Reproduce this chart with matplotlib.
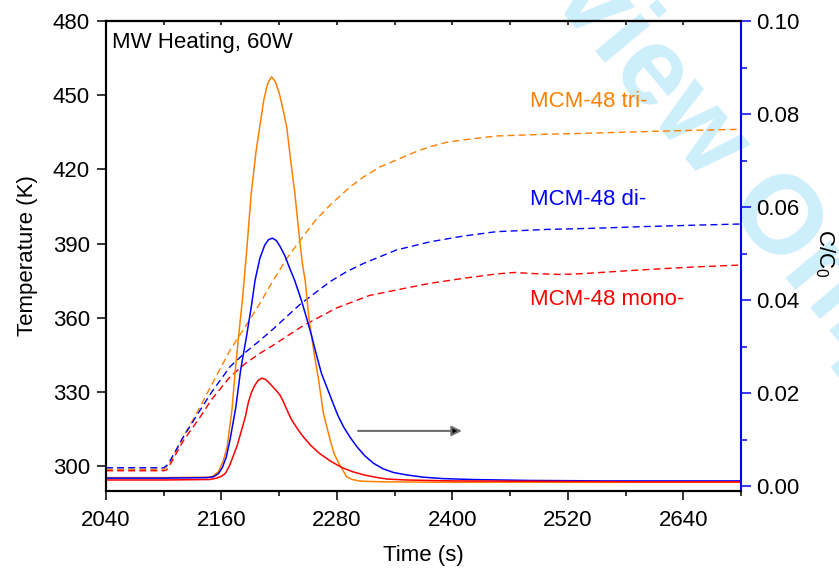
import numpy as np
import matplotlib
matplotlib.use("Agg")
import matplotlib.pyplot as plt
from matplotlib.ticker import MultipleLocator

plt.rcParams['font.family'] = ['Liberation Sans', 'DejaVu Sans']
plt.rcParams['mathtext.default'] = 'regular'

# C/C0 (solid, right axis)
t_tri_c = [2040, 2100, 2145, 2150, 2157, 2162, 2166, 2171, 2174, 2178, 2182, 2186, 2191, 2196,
           2200, 2204, 2208, 2212, 2216, 2220, 2224, 2228, 2232, 2236, 2240, 2244, 2247, 2251,
           2256, 2261, 2266, 2273, 2277, 2282, 2286, 2290, 2296, 2303, 2310, 2330, 2400, 2500,
           2600, 2700]
c_tri = [0.0018, 0.0018, 0.0019, 0.0020, 0.0031, 0.0055, 0.0085, 0.0165, 0.0240, 0.0325, 0.0405,
         0.0500, 0.0630, 0.0720, 0.0775, 0.0830, 0.0865, 0.0880, 0.0870, 0.0845, 0.0810, 0.0770,
         0.0700, 0.0635, 0.0555, 0.0480, 0.0443, 0.0360, 0.0290, 0.0228, 0.0156, 0.0099, 0.0070,
         0.0049, 0.0035, 0.0020, 0.0014, 0.0011, 0.0010, 0.0009, 0.0008, 0.0008, 0.0008, 0.0008]

t_di_c = [2040, 2100, 2145, 2152, 2157, 2161, 2165, 2169, 2175, 2180, 2186, 2191, 2195, 2200,
          2205, 2209, 2213, 2217, 2221, 2226, 2231, 2236, 2243, 2248, 2254, 2259, 2264, 2270,
          2276, 2281, 2287, 2294, 2301, 2309, 2318, 2328, 2339, 2352, 2370, 2390, 2420, 2480,
          2560, 2640, 2700]
c_di = [0.0017, 0.0017, 0.0018, 0.0020, 0.0027, 0.0040, 0.0062, 0.0100, 0.0170, 0.0250, 0.0321,
        0.0385, 0.0443, 0.0490, 0.0518, 0.0530, 0.0533, 0.0528, 0.0515, 0.0495, 0.0468, 0.0443,
        0.0400, 0.0365, 0.0321, 0.0280, 0.0242, 0.0210, 0.0178, 0.0152, 0.0127, 0.0104, 0.0084,
        0.0065, 0.0049, 0.0037, 0.0029, 0.0024, 0.0019, 0.0016, 0.0014, 0.0012, 0.0011, 0.0011,
        0.0011]

t_mono_c = [2040, 2100, 2148, 2155, 2160, 2164, 2168, 2172, 2176, 2179, 2182, 2185, 2188, 2191,
            2194, 2198, 2202, 2206, 2210, 2214, 2218, 2221, 2224, 2227, 2230, 2233, 2239, 2245,
            2253, 2262, 2273, 2285, 2296, 2308, 2320, 2332, 2352, 2400, 2500, 2600, 2700]
c_mono = [0.0013, 0.0013, 0.0014, 0.0017, 0.0021, 0.0027, 0.0042, 0.0063, 0.0085, 0.0106, 0.0128,
          0.0150, 0.0180, 0.0200, 0.0214, 0.0227, 0.0232, 0.0229, 0.0221, 0.0212, 0.0203, 0.0195,
          0.0183, 0.0169, 0.0155, 0.0142, 0.0123, 0.0106, 0.0087, 0.0070, 0.0054, 0.0040, 0.0031,
          0.0024, 0.0019, 0.0015, 0.0013, 0.0011, 0.0010, 0.0009, 0.0009]

# Temperature (dashed, left axis)
t_tri_T = [2040, 2100, 2104, 2107, 2120, 2138, 2150, 2169, 2185, 2200, 2214, 2228, 2242, 2258,
           2273, 2294, 2308, 2325, 2342, 2360, 2377, 2395, 2411, 2446, 2498, 2540, 2595, 2650, 2700]
T_tri = [298.7, 298.7, 300.0, 301.7, 311.5, 324.0, 333.0, 346.9, 356.5, 365.8, 375.2, 384.0, 391.4,
         399.5, 405.6, 413.0, 417.0, 421.0, 423.8, 426.8, 429.2, 431.0, 431.9, 433.5, 434.2, 434.6,
         435.2, 435.8, 436.2]

t_di_T = [2040, 2100, 2104, 2107, 2120, 2138, 2150, 2169, 2185, 2200, 2214, 2242, 2273, 2290,
          2308, 2342, 2377, 2411, 2446, 2498, 2550, 2595, 2650, 2700]
T_di = [299.3, 299.3, 300.5, 302.4, 311.5, 322.7, 330.0, 340.2, 346.0, 350.8, 355.5, 365.5, 374.6,
        378.6, 382.0, 387.4, 390.7, 393.0, 394.8, 395.7, 396.2, 396.8, 397.4, 397.9]

t_mono_T = [2040, 2100, 2103, 2108, 2120, 2138, 2150, 2169, 2185, 2200, 2214, 2245, 2280, 2314,
            2352, 2377, 2411, 2446, 2465, 2481, 2510, 2530, 2543, 2570, 2595, 2650, 2700]
T_mono = [298.1, 298.1, 298.4, 301.5, 310.0, 319.9, 327.0, 336.1, 341.5, 345.6, 348.9, 356.8, 364.0,
          369.0, 372.0, 373.9, 375.9, 377.7, 378.3, 377.9, 377.5, 377.7, 378.0, 378.7, 379.3,
          380.5, 381.3]

c_orange = '#FF8000'
c_blue = '#0000FF'
c_red = '#FF0000'

fig = plt.figure(figsize=(8.39, 5.71), dpi=100)
ax = fig.add_axes([0.1263, 0.1401, 0.7569, 0.8231])
ax.patch.set_visible(False)

# watermark
fig.text(0.386, 1.476, 'For Review Only', fontsize=80, fontweight='bold', color='#cdeefb',
         rotation=-50, rotation_mode='anchor', ha='left', va='baseline', zorder=-5)

dash = (0, (5, 3))
ax.plot(t_tri_T, T_tri, color=c_orange, lw=1.0, ls=dash)
ax.plot(t_di_T, T_di, color=c_blue, lw=1.0, ls=dash)
ax.plot(t_mono_T, T_mono, color=c_red, lw=1.0, ls=dash)

ax2 = ax.twinx()
ax2.patch.set_visible(False)
ax2.plot(t_tri_c, c_tri, color=c_orange, lw=1.1)
ax2.plot(t_di_c, c_di, color=c_blue, lw=1.1)
ax2.plot(t_mono_c, c_mono, color=c_red, lw=1.1)

ax.set_xlim(2040, 2700)
ax.set_ylim(289.9, 480)
ax2.set_ylim(-0.00107, 0.1)

ax.xaxis.set_major_locator(MultipleLocator(120))
ax.xaxis.set_minor_locator(MultipleLocator(60))
ax.yaxis.set_major_locator(MultipleLocator(30))
ax2.yaxis.set_major_locator(MultipleLocator(0.02))
ax2.yaxis.set_minor_locator(MultipleLocator(0.01))
ax2.yaxis.set_major_formatter(matplotlib.ticker.FormatStrFormatter('%.2f'))

for s in ax.spines.values():
    s.set_linewidth(1.5)
for s in ax2.spines.values():
    s.set_linewidth(1.5)
ax.spines['right'].set_visible(False)
ax2.spines['right'].set_color(c_blue)

ax.tick_params(axis='both', which='major', direction='out', length=6.5, width=1.1,
               labelsize=16, pad=5)
ax.tick_params(axis='x', which='major', pad=7)
ax.tick_params(axis='x', which='minor', direction='out', length=3.6, width=1.1)
ax2.tick_params(axis='y', which='major', direction='out', length=7, width=1.1,
                color=c_blue, labelsize=16, pad=4)
ax2.tick_params(axis='y', which='minor', direction='out', length=4, width=1.1, color=c_blue)

top = ax.secondary_xaxis('top')
top.xaxis.set_major_locator(MultipleLocator(60))
top.tick_params(direction='in', length=3, width=1.1, labeltop=False)
top.spines['top'].set_linewidth(1.5)

ax.set_xlabel('Time (s)', fontsize=16)
ax.xaxis.set_label_coords(0.5, -0.138)
ax.xaxis.label.set_va('center')
ax.set_ylabel('Temperature (K)', fontsize=16)
ax.yaxis.set_label_coords(-0.124, 0.5)
ax.yaxis.label.set_va('center')
ax2.set_ylabel('C/C$_0$', fontsize=16, rotation=-90)
ax2.yaxis.set_label_coords(1.132, 0.506)
ax2.yaxis.label.set_va('center')

ax.text(0.0094, 0.9426, 'MW Heating, 60W', transform=ax.transAxes, fontsize=16,
        ha='left', va='baseline')
ax.text(2480.7, 445.2, 'MCM-48 tri-', color=c_orange, fontsize=16, va='baseline')
ax.text(2480.7, 405.6, 'MCM-48 di-', color=c_blue, fontsize=16, va='baseline')
ax.text(2480.7, 365.1, 'MCM-48 mono-', color=c_red, fontsize=16, va='baseline')

ax.annotate('', xy=(2410, 314.2), xytext=(2302, 314.2),
            arrowprops=dict(arrowstyle='-|>', ec='#707070', fc='black',
                            lw=1.5, mutation_scale=15, shrinkA=0, shrinkB=0))

fig.savefig('out.png', dpi=100)
